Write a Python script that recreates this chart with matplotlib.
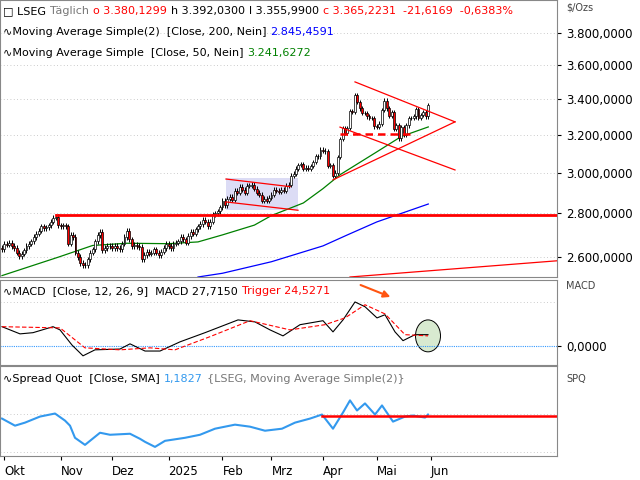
import numpy as np
import pandas as pd
import matplotlib.pyplot as plt
from matplotlib.patches import Rectangle, Ellipse
from matplotlib.ticker import FixedLocator, NullLocator

# Tagesschlusskurse (Sep 30 2024 .. Mai 30 2025)
closes_okt = [2635, 2660, 2655, 2665, 2650, 2640, 2620, 2605, 2615, 2630, 2650, 2660, 2670, 2690, 2705, 2720, 2740, 2730, 2735, 2745, 2760, 2780, 2785, 2745]
closes_nov = [2740, 2745, 2740, 2660, 2700, 2690, 2620, 2600, 2575, 2565, 2565, 2590, 2620, 2635, 2670, 2700, 2715, 2630, 2640, 2650, 2650]
closes_dez = [2640, 2650, 2640, 2635, 2660, 2690, 2720, 2680, 2650, 2655, 2650, 2645, 2590, 2610, 2625, 2615, 2620, 2635, 2620, 2610, 2625, 2640]
closes_jan = [2660, 2650, 2640, 2660, 2665, 2670, 2690, 2680, 2665, 2695, 2715, 2705, 2725, 2740, 2750, 2770, 2760, 2740, 2760, 2795, 2800, 2810, 2830]
closes_feb = [2860, 2840, 2870, 2880, 2865, 2910, 2900, 2930, 2915, 2900, 2935, 2935, 2940, 2920, 2900, 2890, 2860, 2870, 2860, 2875]
closes_mrz = [2890, 2915, 2910, 2905, 2915, 2910, 2935, 2940, 2985, 2995, 3020, 3040, 3045, 3020, 3025, 3020, 3035, 3055, 3085, 3085, 3120]
closes_apr = [3115, 3110, 3035, 3040, 2985, 3000, 3080, 3175, 3235, 3210, 3235, 3330, 3325, 3420, 3380, 3345, 3320, 3320, 3300, 3290, 3290, 3245]
closes_mai = [3240, 3260, 3335, 3390, 3345, 3305, 3325, 3230, 3250, 3180, 3240, 3200, 3250, 3290, 3290, 3300, 3340, 3290, 3310, 3325, 3300, 3365]
closes = np.array(closes_okt + closes_nov + closes_dez + closes_jan + closes_feb + closes_mrz + closes_apr + closes_mai, float)
opens = np.r_[2640, closes[:-1]]
dates = pd.bdate_range("2024-09-30", periods=len(closes))

# Gleitende Durchschnitte
ma50_dates = ["2024-09-30", "2024-10-31", "2024-11-20", "2024-12-10", "2025-01-02", "2025-01-20", "2025-02-03", "2025-02-20", "2025-03-03", "2025-03-20", "2025-04-01", "2025-04-10", "2025-05-01", "2025-05-15", "2025-05-30"]
ma50_vals = [2520, 2600, 2652, 2662, 2660, 2668, 2700, 2745, 2790, 2850, 2920, 2990, 3108, 3190, 3242]
ma200_dates = ["2025-01-20", "2025-02-03", "2025-03-03", "2025-04-01", "2025-04-15", "2025-05-01", "2025-05-30"]
ma200_vals = [2514, 2530, 2580, 2650, 2700, 2760, 2845]

# MACD (x als Pixel-Lesung -> Handelstag)
macd_x = [2, 20, 33, 53, 60, 72, 83, 95, 120, 130, 145, 160, 180, 205, 238, 255, 270, 283, 300, 323, 333, 343, 355, 365, 377, 385, 395, 403, 415, 428]
macd_v = [48, 30, 33, 48, 40, 2, -25, -10, -8, 5, -13, -13, 10, 33, 65, 60, 40, 25, 53, 63, 35, 65, 110, 98, 70, 78, 35, 13, 28, 28]
trig_x = [2, 60, 85, 120, 150, 175, 210, 250, 290, 325, 345, 365, 385, 405, 428]
trig_v = [48, 45, -5, -10, -5, -10, 23, 63, 40, 53, 70, 103, 80, 28, 25]

# Spread Quot
spq_x = [2, 15, 25, 40, 55, 65, 70, 75, 85, 100, 110, 130, 140, 145, 155, 165, 185, 200, 215, 235, 250, 265, 282, 295, 310, 322, 333, 343, 350, 357, 365, 375, 382, 393, 405, 413, 425, 428]
spq_v = [1.165, 1.13, 1.145, 1.175, 1.19, 1.155, 1.13, 1.07, 1.035, 1.095, 1.085, 1.09, 1.065, 1.05, 1.025, 1.055, 1.07, 1.085, 1.115, 1.135, 1.125, 1.105, 1.115, 1.145, 1.165, 1.185, 1.115, 1.195, 1.255, 1.205, 1.24, 1.185, 1.23, 1.15, 1.175, 1.18, 1.17, 1.185]

months = ["Okt", "Nov", "Dez", "2025", "Feb", "Mrz", "Apr", "Mai", "Jun"]
month_starts = ["2024-10-01", "2024-11-01", "2024-12-02", "2025-01-02", "2025-02-03", "2025-03-03", "2025-04-01", "2025-05-01", "2025-06-02"]


def idx(d):
    d = pd.Timestamp(d)
    if d > dates[-1]:
        return len(dates) - 1 + len(pd.bdate_range(dates[-1], d)) - 1
    return int(np.searchsorted(dates, d))


def px2i(p):
    return (np.asarray(p, float) - 2) / 2.45


def text_row(a, x0, y0, parts, fs=8):
    # Textstücke direkt hintereinander setzen
    t = a.text(x0, y0, parts[0][0], transform=a.transAxes, fontsize=fs, va="center", color=parts[0][1])
    for s, c in parts[1:]:
        t = a.annotate(s, xy=(1, 0.5), xycoords=t, xytext=(3, 0), textcoords="offset points",
                       fontsize=fs, va="center", color=c)


fig = plt.figure(figsize=(6.4, 4.8), dpi=100)
W = 557 / 640
ax = fig.add_axes([0, 1 - 277 / 480, W, 277 / 480])
ax2 = fig.add_axes([0, 1 - 365 / 480, W, 85 / 480])
ax3 = fig.add_axes([0, 1 - 456 / 480, W, 90 / 480])
xmax = px2i(557)
for a in (ax, ax2, ax3):
    a.set_xlim(px2i(0), xmax)
    a.yaxis.tick_right()
    a.xaxis.set_major_locator(NullLocator())
    a.tick_params(axis="y", labelsize=8.5, length=3)
    for s in a.spines.values():
        s.set_color("#888888")

# Hauptchart
ax.set_yscale("log")
ax.set_ylim(2514, 4020)
yt = [2600, 2800, 3000, 3200, 3400, 3600, 3800]
ax.yaxis.set_major_locator(FixedLocator(yt))
ax.yaxis.set_minor_locator(NullLocator())
ax.set_yticklabels([f"{v:,.0f}".replace(",", ".") + ",0000" for v in yt])
for v in yt:
    ax.axhline(v, color="#bbbbbb", lw=0.6, ls=(0, (1, 3)), zorder=0)

x = np.arange(len(closes))
highs = np.maximum(opens, closes) + 12
lows = np.minimum(opens, closes) - 12
ax.vlines(x, lows, highs, color="black", lw=0.7, zorder=3)
for i in x:
    o, c = opens[i], closes[i]
    col = "white" if c >= o else "red"
    ax.add_patch(Rectangle((i - 0.4, min(o, c)), 0.8, max(abs(c - o), 1), facecolor=col, edgecolor="black", lw=0.5, zorder=4))

ax.plot([idx(d) for d in ma50_dates], ma50_vals, color="green", lw=0.9, zorder=2)
ax.plot([idx(d) for d in ma200_dates], ma200_vals, color="blue", lw=0.9, zorder=2)

# Zeichnungen
ax.plot([idx("2024-10-30"), xmax], [2792, 2792], color="red", lw=2, zorder=5)
ax.add_patch(Rectangle((px2i(226), 2815), px2i(298) - px2i(226), 2973 - 2815, facecolor="#dcdcf5", edgecolor="none", zorder=1))
ax.plot(px2i([226, 290]), [2968, 2930], color="red", lw=0.9, zorder=5)
ax.plot(px2i([226, 298]), [2855, 2815], color="red", lw=0.9, zorder=5)
ax.plot(px2i([355, 455]), [3499, 3270], color="red", lw=0.9, zorder=5)
ax.plot(px2i([333, 455]), [2964, 3270], color="red", lw=0.9, zorder=5)
ax.plot(px2i([340, 455]), [3241, 3014], color="red", lw=0.9, zorder=5)
ax.plot(px2i([340, 410]), [3205, 3205], color="red", lw=1.8, ls=(0, (3, 2)), zorder=5)
ax.plot(px2i([350, 557]), [2514, 2584], color="red", lw=0.9, zorder=5)

text_row(ax, 0.005, 0.96, [("\u25a1 LSEG", "black"), ("Täglich", "#777777"), ("o 3.380,1299", "red"),
                           ("h 3.392,0300", "black"), ("l 3.355,9900", "black"),
                           ("c 3.365,2231  -21,6169  -0,6383%", "red")])
text_row(ax, 0.005, 0.885, [("\u223fMoving Average Simple(2)  [Close, 200, Nein]", "black"), ("2.845,4591", "blue")])
text_row(ax, 0.005, 0.81, [("\u223fMoving Average Simple  [Close, 50, Nein]", "black"), ("3.241,6272", "green")])
fig.text(0.885, 0.985, "$/Ozs", fontsize=7, va="center", color="#444444")

# MACD
ax2.set_ylim(-48, 165)
ax2.yaxis.set_major_locator(FixedLocator([0]))
ax2.set_yticklabels(["0,0000"])
ax2.axhline(0, color="#3399ff", lw=0.8, ls=(0, (1, 1)))
ax2.axhline(110, color="#bbbbbb", lw=0.6, ls=(0, (1, 3)))
ax2.plot(px2i(macd_x), macd_v, color="black", lw=0.8)
ax2.plot(px2i(trig_x), trig_v, color="red", lw=0.8, ls=(0, (4, 2)))
ax2.add_patch(Ellipse((px2i(428), 25), px2i(25) - px2i(0), 80, facecolor="#d8ead0", edgecolor="black", lw=0.7, zorder=0))
ax2.annotate("", xy=(px2i(393), 120), xytext=(px2i(358), 155),
             arrowprops=dict(arrowstyle="-|>", color="#ff5511", lw=1.5))
text_row(ax2, 0.005, 0.87, [("\u223fMACD  [Close, 12, 26, 9]  MACD 27,7150", "black"), ("Trigger 24,5271", "red")])
fig.text(0.885, 0.405, "MACD", fontsize=7, va="center", color="#444444")

# Spread Quot
ax3.set_ylim(0.98, 1.425)
ax3.yaxis.set_major_locator(NullLocator())
for v in [1.19, 1.0]:
    ax3.axhline(v, color="#bbbbbb", lw=0.6, ls=(0, (1, 3)))
ax3.plot(px2i(spq_x), spq_v, color="#3399ee", lw=1.5)
ax3.plot(px2i([322, 557]), [1.18, 1.18], color="red", lw=1.8)
text_row(ax3, 0.005, 0.86, [("\u223fSpread Quot  [Close, SMA]", "black"), ("1,1827", "#3399ee"),
                            ("{LSEG, Moving Average Simple(2)}", "#777777")])
fig.text(0.885, 0.21, "SPQ", fontsize=7, va="center", color="#444444")

ax3.xaxis.set_major_locator(FixedLocator([idx(d) for d in month_starts]))
ax3.set_xticklabels(months, fontsize=8.5, ha="left")
ax3.tick_params(axis="x", length=3)

fig.savefig("out.png", dpi=100)
